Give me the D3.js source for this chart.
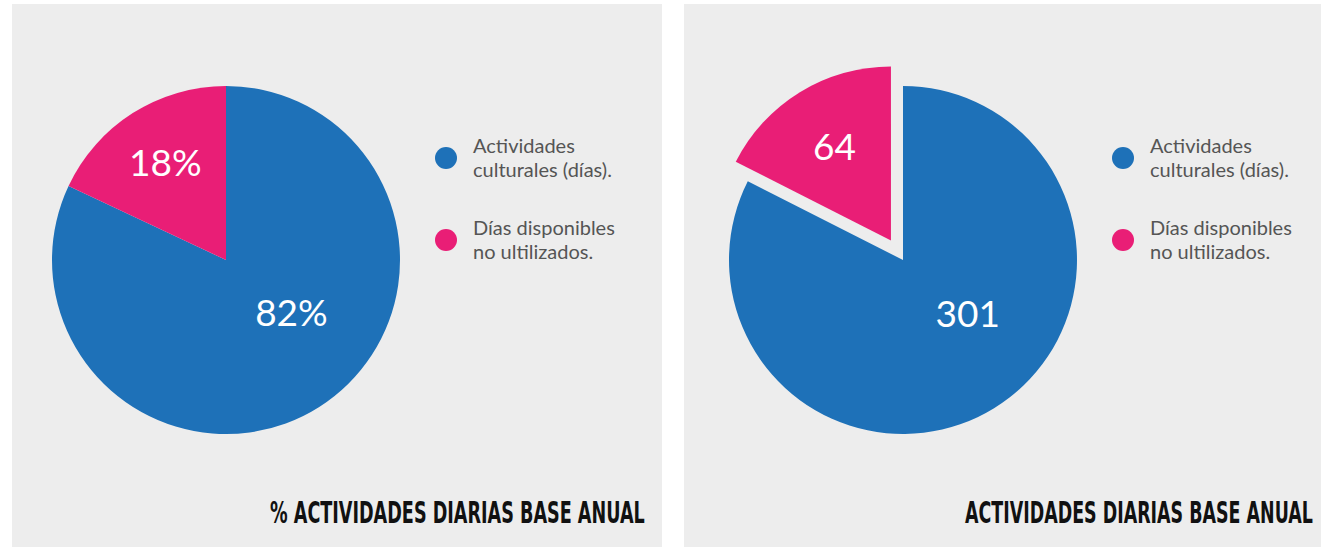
<!DOCTYPE html>
<html>
<head>
<meta charset="utf-8">
<script src="https://cdn.jsdelivr.net/npm/d3@7"></script>
<style>
  html, body { margin: 0; padding: 0; background: #ffffff; }
  svg { display: block; }
</style>
</head>
<body>
<svg id="chart" width="1321" height="547"></svg>
<script>
// categories shared by both charts
const categories = ["Actividades culturales (días).", "Días disponibles no ultilizados."];
const legendLines = [["Actividades", "culturales (días)."], ["Días disponibles", "no ultilizados."]];
const colors = ["#1e71b8", "#e91e76"];

// left chart: percentages
const percentValues = [82, 18];
const percentLabels = ["82%", "18%"];
// right chart: days
const dayValues = [301, 64];
const dayLabels = ["301", "64"];

const titles = ["% ACTIVIDADES DIARIAS BASE ANUAL", "ACTIVIDADES DIARIAS BASE ANUAL"];

const svg = d3.select("#chart");

const panels = [
	{ x: 12, w: 650, values: percentValues, labels: percentLabels, title: titles[0],
	  cx: 226, titleEnd: 645, titleLen: 375, legendX: 446, explode: 0 },
	{ x: 684, w: 650, values: dayValues, labels: dayLabels, title: titles[1],
	  cx: 903, titleEnd: 1313, titleLen: 348, legendX: 1123, explode: 23 }
];

const radius = 174,
	  cy = 260;

const pie = d3.pie().sort(null).value(d => d);
const arc = d3.arc().innerRadius(0).outerRadius(radius);

panels.forEach(p => {

	const g = svg.append("g");

	g.append("rect")
	 .attr("x", p.x).attr("y", 4)
	 .attr("width", p.w).attr("height", 543)
	 .attr("fill", "#ededed");

	const arcs = pie(p.values);
	const total = d3.sum(p.values);

	const pieG = g.append("g")
				  .attr("transform", "translate(" + p.cx + "," + cy + ")");

	// pull the small slice out along its bisector (right chart only)
	const shift = d => {
		if (d.value / total > 0.5 || !p.explode) return [0, 0];
		const a = (d.startAngle + d.endAngle) / 2;
		return [Math.sin(a) * p.explode, -Math.cos(a) * p.explode];
	};

	const slice = pieG.selectAll(".slice")
		.data(arcs)
		.enter().append("g")
		.attr("transform", d => "translate(" + shift(d) + ")");

	slice.append("path")
		.attr("d", arc)
		.attr("fill", (d, i) => colors[i]);

	slice.append("text")
		.attr("transform", d => {
			let a, r;
			if (d.value / total > 0.5) {
				a = d.startAngle + (d.endAngle - d.startAngle) * 0.44;
				r = radius * 0.49;
			} else {
				a = (d.startAngle + d.endAngle) / 2;
				r = radius * (p.explode ? 0.62 : 0.65);
			}
			return "translate(" + (Math.sin(a) * r) + "," + (-Math.cos(a) * r) + ")";
		})
		.attr("dy", "0.3em")
		.attr("text-anchor", "middle")
		.attr("fill", "#ffffff")
		.style("font-family", "Lato, sans-serif")
		.style("font-weight", 400)
		.style("font-size", "37px")
		.text((d, i) => p.labels[i]);

	// legend
	const legend = g.selectAll(".legend")
		.data(categories)
		.enter().append("g")
		.attr("transform", (d, i) => "translate(" + p.legendX + "," + (158 + i * 82) + ")");

	legend.append("circle")
		.attr("r", 11)
		.attr("fill", (d, i) => colors[i]);

	legend.each(function(d, i) {
		const t = d3.select(this).append("text")
			.attr("x", 27)
			.attr("fill", "#555555")
			.style("font-family", "Lato, sans-serif")
			.style("font-size", "20px");
		legendLines[i].forEach((line, j) => {
			t.append("tspan").attr("x", 27).attr("y", -5 + j * 24).text(line);
		});
	});

	// title: condensed bold face, stretched to the measured width
	const title = g.append("text")
	 .attr("y", 523)
	 .attr("fill", "#111111")
	 .style("font-family", "'Liberation Sans Narrow', 'DejaVu Sans Condensed', sans-serif")
	 .style("font-weight", "bold")
	 .style("font-size", "31px")
	 .text(p.title);

	const natural = title.node().getComputedTextLength();
	const sx = p.titleLen / natural;
	title.attr("transform", "translate(" + (p.titleEnd - p.titleLen) + ",0) scale(" + sx + ",1)");
});
</script>
</body>
</html>
